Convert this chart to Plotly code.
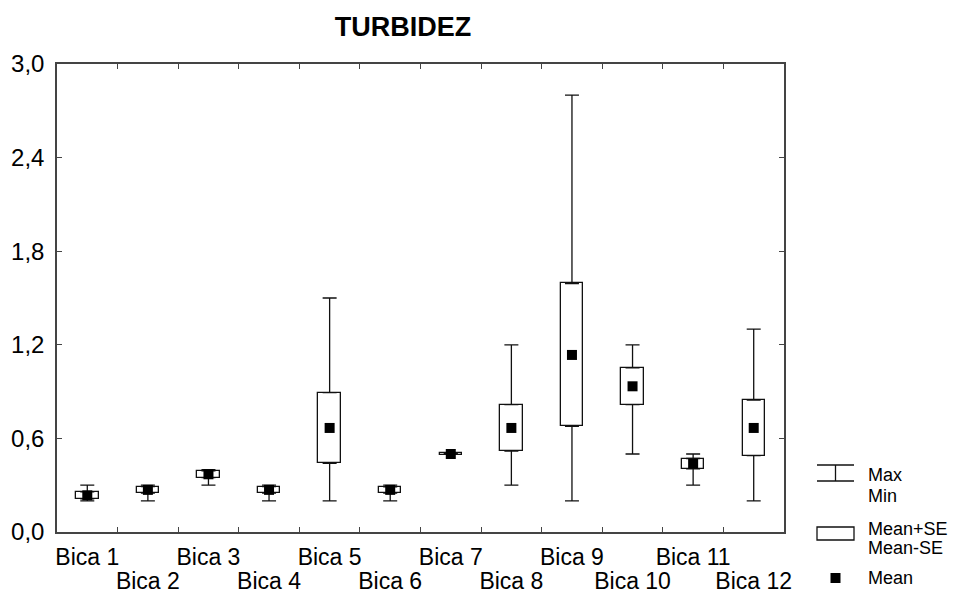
import numpy as np
import plotly.graph_objects as go

categories = ["Bica 1", "Bica 2", "Bica 3", "Bica 4", "Bica 5", "Bica 6",
              "Bica 7", "Bica 8", "Bica 9", "Bica 10", "Bica 11", "Bica 12"]
means = [0.235, 0.27, 0.37, 0.27, 0.667, 0.27, 0.50, 0.667, 1.135, 0.934, 0.438, 0.667]
se = [0.022, 0.021, 0.022, 0.021, 0.227, 0.02, 0.004, 0.149, 0.458, 0.118, 0.033, 0.178]
mins = [0.2, 0.2, 0.3, 0.2, 0.2, 0.2, 0.5, 0.3, 0.2, 0.5, 0.3, 0.2]
maxs = [0.3, 0.3, 0.4, 0.3, 1.5, 0.3, 0.5, 1.2, 2.8, 1.2, 0.5, 1.3]
row1_labels = ["Bica 1", "", "Bica 3", "", "Bica 5", "", "Bica 7", "", "Bica 9", "", "Bica 11", ""]
row2_labels = ["", "Bica 2", "", "Bica 4", "", "Bica 6", "", "Bica 8", "", "Bica 10", "", "Bica 12"]
y_ticks = [0.0, 0.6, 1.2, 1.8, 2.4, 3.0]

m = np.array(means)
s = np.array(se)
lo = m - s
hi = m + s
mn = np.array(mins)
mx = np.array(maxs)

FONT = "Liberation Sans, Arial, sans-serif"
LINE = "#111111"
AX = "#444444"

fig = go.Figure()

# Mean ± SE boxes
fig.add_trace(go.Bar(
    x=categories, y=2 * s, base=lo, width=0.37,
    marker=dict(color="white", line=dict(color=LINE, width=1.3)),
    hoverinfo="skip",
))
# lower whiskers (min -> box bottom)
fig.add_trace(go.Scatter(
    x=categories, y=mn, mode="markers",
    marker=dict(size=1, color="rgba(0,0,0,0)"),
    error_y=dict(type="data", symmetric=False, array=np.clip(lo - mn, 0, None),
                 arrayminus=np.zeros(len(mn)), color=LINE, thickness=1.3, width=7),
    hoverinfo="skip",
))
# upper whiskers (box top -> max)
fig.add_trace(go.Scatter(
    x=categories, y=hi, mode="markers",
    marker=dict(size=1, color="rgba(0,0,0,0)"),
    error_y=dict(type="data", symmetric=False, array=np.clip(mx - hi, 0, None),
                 arrayminus=np.zeros(len(mx)), color=LINE, thickness=1.3, width=7),
    hoverinfo="skip",
))
# means
fig.add_trace(go.Scatter(
    x=categories, y=means, mode="markers",
    marker=dict(symbol="square", size=10, color="black"),
    hoverinfo="skip",
))
# invisible trace to carry the second label row axis
fig.add_trace(go.Scatter(
    x=categories, y=means, xaxis="x2", mode="markers",
    marker=dict(size=1, color="rgba(0,0,0,0)"), hoverinfo="skip",
))

L, R, T, B = 57, 172, 64, 65
PW = 956 - L - R
PH = 597 - T - B

def px(x):
    return (x - L) / PW

def py(y):
    return (597 - B - y) / PH

shapes = [
    dict(type="line", xref="paper", yref="paper", x0=px(817), x1=px(854), y0=py(465), y1=py(465),
         line=dict(color=LINE, width=1.3)),
    dict(type="line", xref="paper", yref="paper", x0=px(817), x1=px(854), y0=py(481), y1=py(481),
         line=dict(color=LINE, width=1.3)),
    dict(type="line", xref="paper", yref="paper", x0=px(835.5), x1=px(835.5), y0=py(465), y1=py(481),
         line=dict(color=LINE, width=1.3)),
    dict(type="rect", xref="paper", yref="paper", x0=px(817), x1=px(854), y0=py(527), y1=py(540),
         line=dict(color=LINE, width=1.3), fillcolor="white"),
    dict(type="rect", xref="paper", yref="paper", x0=px(830.5), x1=px(840.5), y0=py(573), y1=py(583),
         line=dict(width=0), fillcolor="black"),
]

annotations = []
for text, yy in [("Max", 475), ("Min", 496), ("Mean+SE", 529), ("Mean-SE", 548), ("Mean", 578)]:
    annotations.append(dict(text=text, xref="paper", yref="paper", x=px(866), y=py(yy),
                            xanchor="left", yanchor="middle", showarrow=False,
                            font=dict(family=FONT, size=18, color="black")))

fig.update_layout(
    width=956, height=597,
    margin=dict(l=L, r=R, t=T, b=B, autoexpand=False),
    paper_bgcolor="white", plot_bgcolor="white",
    showlegend=False, hovermode=False, separators=",.",
    title=dict(text="<b>TURBIDEZ</b>", x=403 / 956, xanchor="center", y=1 - 27 / 597, yanchor="middle",
               font=dict(family=FONT, size=27, color="black")),
    font=dict(family=FONT, size=23, color="black"),
    shapes=shapes, annotations=annotations,
    bargap=0,
    xaxis=dict(
        type="category", tickmode="array", tickvals=categories, ticktext=row1_labels,
        tickson="boundaries", ticks="inside", ticklen=5, tickcolor=AX, tickwidth=1.3,
        showline=True, linecolor=AX, linewidth=1.5, mirror="ticks", showgrid=False,
        range=[-0.5, 11.5], ticklabelstandoff=4, zeroline=False, tickangle=0, automargin=False,
    ),
    xaxis2=dict(
        type="category", overlaying="x", side="bottom", anchor="y",
        tickmode="array", tickvals=categories, ticktext=row2_labels,
        ticks="", showline=False, showgrid=False, zeroline=False,
        range=[-0.5, 11.5], ticklabelstandoff=33, tickangle=0, automargin=False,
    ),
    yaxis=dict(
        range=[0, 3], tickmode="array", tickvals=y_ticks, tickformat=".1f",
        ticks="inside", ticklen=5, tickcolor=AX, tickwidth=1.3,
        showline=True, linecolor=AX, linewidth=1.5, mirror="ticks", showgrid=False,
        zeroline=False, ticklabelstandoff=6, automargin=False, tickfont=dict(size=24),
    ),
)

fig.write_html("out.html", config={"displayModeBar": False},
               post_script="document.body.style.margin='0';document.body.style.overflow='hidden';")
